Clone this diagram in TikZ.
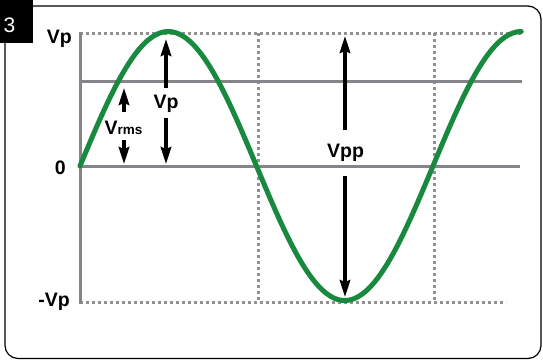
\documentclass[tikz,border=0pt]{standalone}
\usepackage{fontspec}
\setmainfont{Liberation Sans}
\usetikzlibrary{arrows.meta}
\definecolor{sinegreen}{RGB}{24,137,62}
\definecolor{gridsolid}{RGB}{133,133,137}
\definecolor{griddot}{RGB}{145,145,148}
\tikzset{
  solidgrid/.style={draw=gridsolid, line width=3pt},
  dotgrid/.style={draw=griddot, line width=3pt, dash pattern=on 3pt off 3pt},
  lbl/.style={font=\bfseries\fontsize{19.5}{21}\selectfont, inner sep=0pt},
  midlbl/.style={font=\bfseries\fontsize{19.5}{21}\selectfont, inner sep=0pt},
  arr/.style={line width=3.2pt, -{Stealth[length=17pt,width=10.5pt,inset=2pt]}},
  sine/.style={draw=sinegreen, line width=5pt}
}
\begin{document}
\begin{tikzpicture}[x=1pt,y=-1pt]
\useasboundingbox (0,0) rectangle (543,360);
% frame
\draw[line width=1.2pt, rounded corners=13pt] (5,6) rectangle (541,358.5);
\fill[black] (0,0) rectangle (33,43);
\node[text=white, font=\fontsize{21}{22}\selectfont, inner sep=0pt] (num) at (9.5,25.5) {3};
% grid
\draw[dotgrid] (80,33) -- (521,33);
\draw[dotgrid] (80,302) -- (506,302);
\draw[dotgrid] (258,33) -- (258,302);
\draw[dotgrid] (434,33) -- (434,302);
\draw[solidgrid] (80,81.5) -- (522,81.5);
\draw[solidgrid] (80,166) -- (520,166);
\draw[solidgrid] (80,31.5) -- (80,303.5);
% axis labels
\node[lbl, anchor=base east] (lvp) at (72,43.5) {Vp};
\node[lbl, anchor=base east] (lzero) at (66,174) {0};
\node[lbl, anchor=base east] (lmvp) at (70,306) {-Vp};
% sine
\draw[sine, line cap=round] plot[domain=0:450, samples=200, smooth] ({80+\x/360*353}, {166-134.5*sin(\x)});
% Vp arrow
\node[midlbl, anchor=base] (vp) at (166,108.5) {Vp};
\coordinate (vptop) at (166,39);
\coordinate (vpbot) at (166,164);
\coordinate (vpa) at (166,88);
\coordinate (vpb) at (166,118);
\draw[arr] (vpa) -- (vptop);
\draw[arr] (vpb) -- (vpbot);
% Vrms arrow
\node[midlbl, anchor=base] (vrms) at (123.5,134) {V\fontsize{13.5}{14}\selectfont rms};
\coordinate (vra) at (124,112);
\coordinate (vrtop) at (124,88);
\coordinate (vrb) at (124,140);
\coordinate (vrbot) at (124,164);
\draw[arr] (vra) -- (vrtop);
\draw[arr] (vrb) -- (vrbot);
% Vpp arrow
\node[midlbl, anchor=base] (vpp) at (345.5,157.5) {Vpp};
\coordinate (vppa) at (345,130);
\coordinate (vpptop) at (345,36);
\coordinate (vppb) at (345,176);
\coordinate (vppbot) at (345,297);
\draw[arr] (vppa) -- (vpptop);
\draw[arr] (vppb) -- (vppbot);
\end{tikzpicture}
\end{document}
